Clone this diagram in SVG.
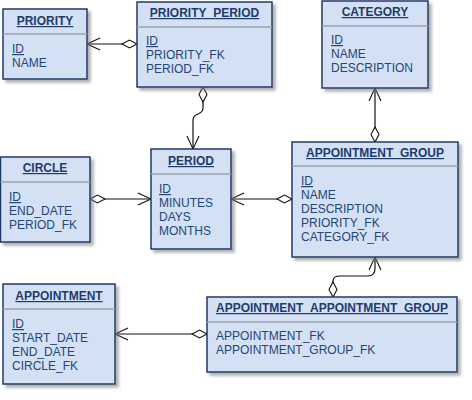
<svg xmlns="http://www.w3.org/2000/svg" width="472" height="400" viewBox="0 0 472 400">
<style>
.box{fill:#d4e1f4;stroke:#1f3b6b;stroke-width:1.5;filter:url(#sh)}
.sep{stroke:#9aa3ae;stroke-width:1.5}
.hd{font-family:"Liberation Sans",Arial,sans-serif;font-size:12px;font-weight:bold;fill:#1f3b6b;text-anchor:middle;text-decoration:underline}
.fd{font-family:"Liberation Sans",Arial,sans-serif;font-size:12px;fill:#23467a}
.u{text-decoration:underline}
.cn{fill:none;stroke:#111;stroke-width:1.2;marker-start:url(#dia);marker-end:url(#arr)}
</style>
<defs>
<filter id="sh" x="-10%" y="-10%" width="130%" height="130%">
<feDropShadow dx="3" dy="3" stdDeviation="1.5" flood-color="#7a7a7a" flood-opacity="0.6"/>
</filter>
<marker id="dia" markerUnits="userSpaceOnUse" markerWidth="16" markerHeight="10" refX="0" refY="0" orient="auto" overflow="visible">
<path d="M0,0 L7.5,-4 L15,0 L7.5,4 Z" fill="#fff" stroke="#111" stroke-width="1.1"/>
</marker>
<marker id="arr" markerUnits="userSpaceOnUse" markerWidth="14" markerHeight="14" refX="0" refY="0" orient="auto" overflow="visible">
<path d="M-13,-6 L0,0 L-13,6" fill="none" stroke="#111" stroke-width="1.1"/>
</marker>
</defs>
<g id="connectors">
<path class="cn" d="M137,44 L87,44"/>
<path class="cn" d="M203,87 L203,108 C203,116 193,112 193,120 L193,149"/>
<path class="cn" d="M375,142 L375,88"/>
<path class="cn" d="M90,199 L151,199"/>
<path class="cn" d="M292,199 L231,199"/>
<path class="cn" d="M333,297 L333,281 Q333,276 340,276 L368,276 Q375,276 375,268 L375,257"/>
<path class="cn" d="M207,334 L115,334"/>
</g>
<g id="priority">
<rect class="box" x="3" y="9" width="84" height="70"/>
<line class="sep" x1="3" y1="34" x2="87" y2="34"/>
<text class="hd" x="45" y="25">PRIORITY</text>
<text class="fd u" x="12" y="53">ID</text>
<text class="fd" x="12" y="67">NAME</text>
</g>
<g id="priority_period">
<rect class="box" x="137" y="2" width="135" height="85"/>
<line class="sep" x1="137" y1="27" x2="272" y2="27"/>
<text class="hd" x="204.5" y="17">PRIORITY_PERIOD</text>
<text class="fd u" x="146" y="45">ID</text>
<text class="fd" x="146" y="59">PRIORITY_FK</text>
<text class="fd" x="146" y="73">PERIOD_FK</text>
</g>
<g id="category">
<rect class="box" x="322" y="1" width="106" height="87"/>
<line class="sep" x1="322" y1="26" x2="428" y2="26"/>
<text class="hd" x="375" y="16">CATEGORY</text>
<text class="fd u" x="331" y="44">ID</text>
<text class="fd" x="331" y="58">NAME</text>
<text class="fd" x="331" y="72">DESCRIPTION</text>
</g>
<g id="period">
<rect class="box" x="151" y="149" width="80" height="100"/>
<line class="sep" x1="151" y1="174" x2="231" y2="174"/>
<text class="hd" x="191" y="165">PERIOD</text>
<text class="fd u" x="159" y="193">ID</text>
<text class="fd" x="159" y="207">MINUTES</text>
<text class="fd" x="159" y="221">DAYS</text>
<text class="fd" x="159" y="235">MONTHS</text>
</g>
<g id="circle">
<rect class="box" x="0.5" y="157" width="89.5" height="85"/>
<line class="sep" x1="0.5" y1="182" x2="90" y2="182"/>
<text class="hd" x="45" y="172">CIRCLE</text>
<text class="fd u" x="9" y="201">ID</text>
<text class="fd" x="9" y="215">END_DATE</text>
<text class="fd" x="9" y="229">PERIOD_FK</text>
</g>
<g id="appointment_group">
<rect class="box" x="292" y="142" width="166" height="115"/>
<line class="sep" x1="292" y1="166" x2="458" y2="166"/>
<text class="hd" x="375" y="157">APPOINTMENT_GROUP</text>
<text class="fd u" x="301" y="185">ID</text>
<text class="fd" x="301" y="199">NAME</text>
<text class="fd" x="301" y="213">DESCRIPTION</text>
<text class="fd" x="301" y="227">PRIORITY_FK</text>
<text class="fd" x="301" y="241">CATEGORY_FK</text>
</g>
<g id="appointment">
<rect class="box" x="3" y="284" width="112" height="100"/>
<line class="sep" x1="3" y1="309" x2="115" y2="309"/>
<text class="hd" x="59" y="300">APPOINTMENT</text>
<text class="fd u" x="12" y="328">ID</text>
<text class="fd" x="12" y="342">START_DATE</text>
<text class="fd" x="12" y="356">END_DATE</text>
<text class="fd" x="12" y="370">CIRCLE_FK</text>
</g>
<g id="appointment_appointment_group">
<rect class="box" x="207" y="297" width="250" height="75"/>
<line class="sep" x1="207" y1="322" x2="457" y2="322"/>
<text class="hd" x="332" y="312">APPOINTMENT_APPOINTMENT_GROUP</text>
<text class="fd" x="216" y="340">APPOINTMENT_FK</text>
<text class="fd" x="216" y="354">APPOINTMENT_GROUP_FK</text>
</g>
</svg>
